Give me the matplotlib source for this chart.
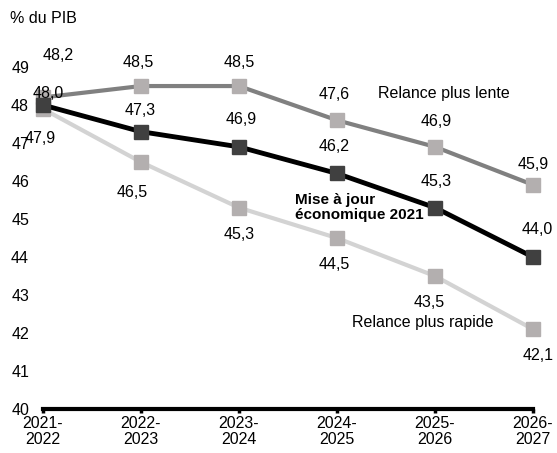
import matplotlib
matplotlib.use("Agg")
import matplotlib.pyplot as plt

years = ["2021-\n2022", "2022-\n2023", "2023-\n2024", "2024-\n2025", "2025-\n2026", "2026-\n2027"]
lente = [48.2, 48.5, 48.5, 47.6, 46.9, 45.9]
maj = [48.0, 47.3, 46.9, 46.2, 45.3, 44.0]
rapide = [47.9, 46.5, 45.3, 44.5, 43.5, 42.1]

# label offsets in pixels (dx, dy)
off_lente = [(15, 42), (-3, 24), (0, 24), (-3, 26), (1, 25), (0, 20)]
off_maj = [(5, 12), (-1, 21), (2, 27), (-3, 27), (1, 26), (4, 28)]
off_rapide = [(-3, -30), (-9, -30), (0, -27), (-3, -26), (-6, -26), (5, -26)]

plt.rcParams['font.family'] = ['Liberation Sans', 'DejaVu Sans']
fs = 11.5

fig = plt.figure(figsize=(5.57, 4.53), dpi=100)
ax = fig.add_axes([0.077, 0.097, 0.88, 0.755])

x = list(range(len(years)))
ax.plot(x, rapide, color="#d3d3d3", lw=3, marker="s", ms=10, mfc="#b3afaf", mec="#b3afaf",
        clip_on=False, zorder=3)
ax.plot(x, lente, color="#808080", lw=3, marker="s", ms=10, mfc="#b3afaf", mec="#b3afaf",
        clip_on=False, zorder=3)
ax.plot(x, maj, color="black", lw=3.5, marker="s", ms=10, mfc="#404040", mec="#404040",
        clip_on=False, zorder=4)

for vals, offs in [(lente, off_lente), (maj, off_maj), (rapide, off_rapide)]:
    for i, v in enumerate(vals):
        ax.annotate(f"{v:.1f}".replace(".", ","), (i, v), xytext=offs[i],
                    textcoords="offset pixels", ha="center", va="center", fontsize=fs)

ax.text(0.683, 0.924, "Relance plus lente", transform=ax.transAxes, ha="left", va="center", fontsize=fs)
ax.text(0.514, 0.59, "Mise à jour\néconomique 2021", transform=ax.transAxes, ha="left", va="center",
        fontsize=11, fontweight="bold", linespacing=1.1)
ax.text(0.775, 0.254, "Relance plus rapide", transform=ax.transAxes, ha="center", va="center", fontsize=fs)

ax.set_xlim(0, 5)
ax.set_ylim(40, 49)
ax.set_yticks(range(40, 50))
ax.set_xticks(x)
ax.set_xticklabels(years, fontsize=fs, linespacing=1.05)
ax.tick_params(axis="y", length=0, pad=10, labelsize=fs)
ax.tick_params(axis="x", length=3, width=2.5, direction="out", pad=2)
for s in ["top", "right", "left"]:
    ax.spines[s].set_visible(False)
ax.spines["bottom"].set_linewidth(3)

fig.text(0.018, 0.96, "% du PIB", ha="left", va="center", fontsize=fs)

fig.savefig("out.png", dpi=100)
